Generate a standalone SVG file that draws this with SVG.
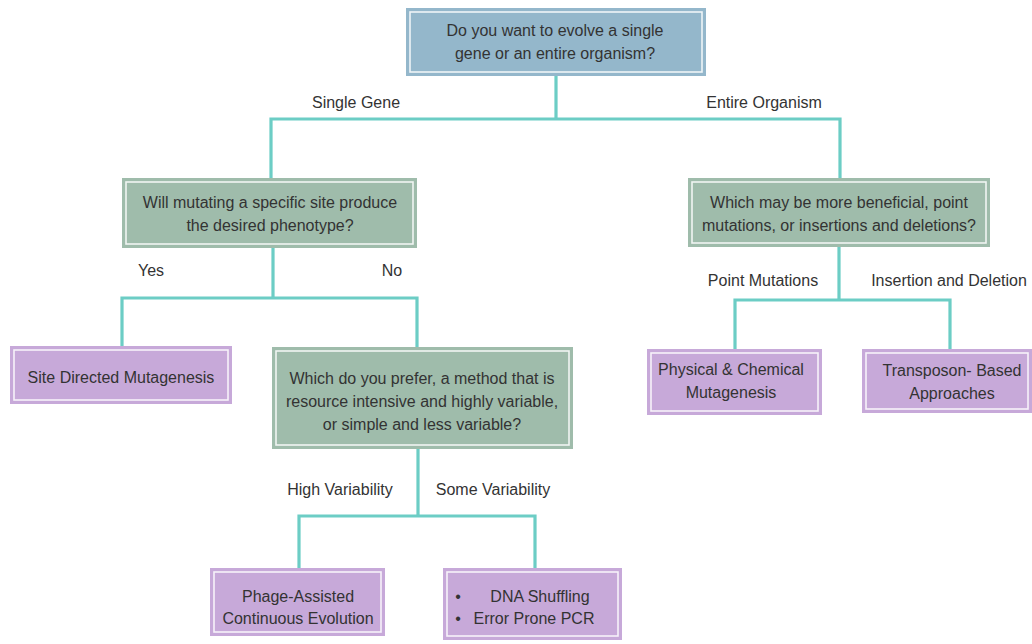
<svg xmlns="http://www.w3.org/2000/svg" width="1032" height="644" viewBox="0 0 1032 644">
<style>
text{font-family:"Liberation Sans",Arial,sans-serif;font-size:16px;fill:#333;text-anchor:middle}
.lbl{font-size:16px}
.blue{fill:#94b7cb}
.green{fill:#9fbcab}
.purple{fill:#c7a9d9}
.inner{fill:none;stroke:#fff;stroke-width:1.6;opacity:0.85}
.conn{fill:none;stroke:#6ccdc5;stroke-width:3.2}
</style>
<rect width="1032" height="644" fill="#fff"/>
<g id="connectors">
<path class="conn" d="M556 76V119M271 178V119H840V178"/>
<path class="conn" d="M273 248V298M122 346V298H417V348"/>
<path class="conn" d="M418 449V516M299 568V516H535V568"/>
<path class="conn" d="M839 247V300M735 349V300H950V349"/>
<text class="lbl" x="356" y="108">Single Gene</text>
<text class="lbl" x="764" y="108">Entire Organism</text>
<text class="lbl" x="151" y="276">Yes</text>
<text class="lbl" x="392" y="276">No</text>
<text class="lbl" x="763" y="286">Point Mutations</text>
<text class="lbl" x="949" y="286">Insertion and Deletion</text>
<text class="lbl" x="340" y="495">High Variability</text>
<text class="lbl" x="493" y="495">Some Variability</text>
</g>
<g id="q1">
<rect class="blue" x="406" y="8" width="300" height="68"/>
<rect class="inner" x="410" y="12" width="292" height="60"/>
<text x="555" y="36">Do you want to evolve a single</text>
<text x="555" y="59">gene or an entire organism?</text>
</g>
<g id="q2">
<rect class="green" x="122" y="178" width="295" height="70"/>
<rect class="inner" x="126" y="182" width="287" height="62"/>
<text x="270" y="208">Will mutating a specific site produce</text>
<text x="270" y="231">the desired phenotype?</text>
</g>
<g id="q3">
<rect class="green" x="688" y="178" width="302" height="69"/>
<rect class="inner" x="692" y="182" width="294" height="61"/>
<text x="839" y="208">Which may be more beneficial, point</text>
<text x="839" y="231">mutations, or insertions and deletions?</text>
</g>
<g id="site">
<rect class="purple" x="10" y="346" width="222" height="58"/>
<rect class="inner" x="14" y="350" width="214" height="50"/>
<text x="121" y="383">Site Directed Mutagenesis</text>
</g>
<g id="q4">
<rect class="green" x="272" y="347" width="301" height="102"/>
<rect class="inner" x="276" y="351" width="293" height="94"/>
<text x="422" y="384">Which do you prefer, a method that is</text>
<text x="422" y="407">resource intensive and highly variable,</text>
<text x="422" y="430">or simple and less variable?</text>
</g>
<g id="physical">
<rect class="purple" x="647" y="349" width="175" height="66"/>
<rect class="inner" x="651" y="353" width="167" height="58"/>
<text x="731" y="375">Physical &amp; Chemical</text>
<text x="731" y="398">Mutagenesis</text>
</g>
<g id="transposon">
<rect class="purple" x="862" y="349" width="170" height="64"/>
<rect class="inner" x="866" y="353" width="162" height="56"/>
<text x="952" y="376">Transposon- Based</text>
<text x="952" y="399">Approaches</text>
</g>
<g id="phage">
<rect class="purple" x="210" y="568" width="175" height="68"/>
<rect class="inner" x="214" y="572" width="167" height="60"/>
<text x="298" y="602">Phage-Assisted</text>
<text x="298" y="624">Continuous Evolution</text>
</g>
<g id="dna">
<rect class="purple" x="443" y="568" width="179" height="72"/>
<rect class="inner" x="447" y="572" width="171" height="64"/>
<text x="458" y="602">•</text>
<text x="540" y="602">DNA Shuffling</text>
<text x="458" y="624">•</text>
<text x="534" y="624">Error Prone PCR</text>
</g>
</svg>
